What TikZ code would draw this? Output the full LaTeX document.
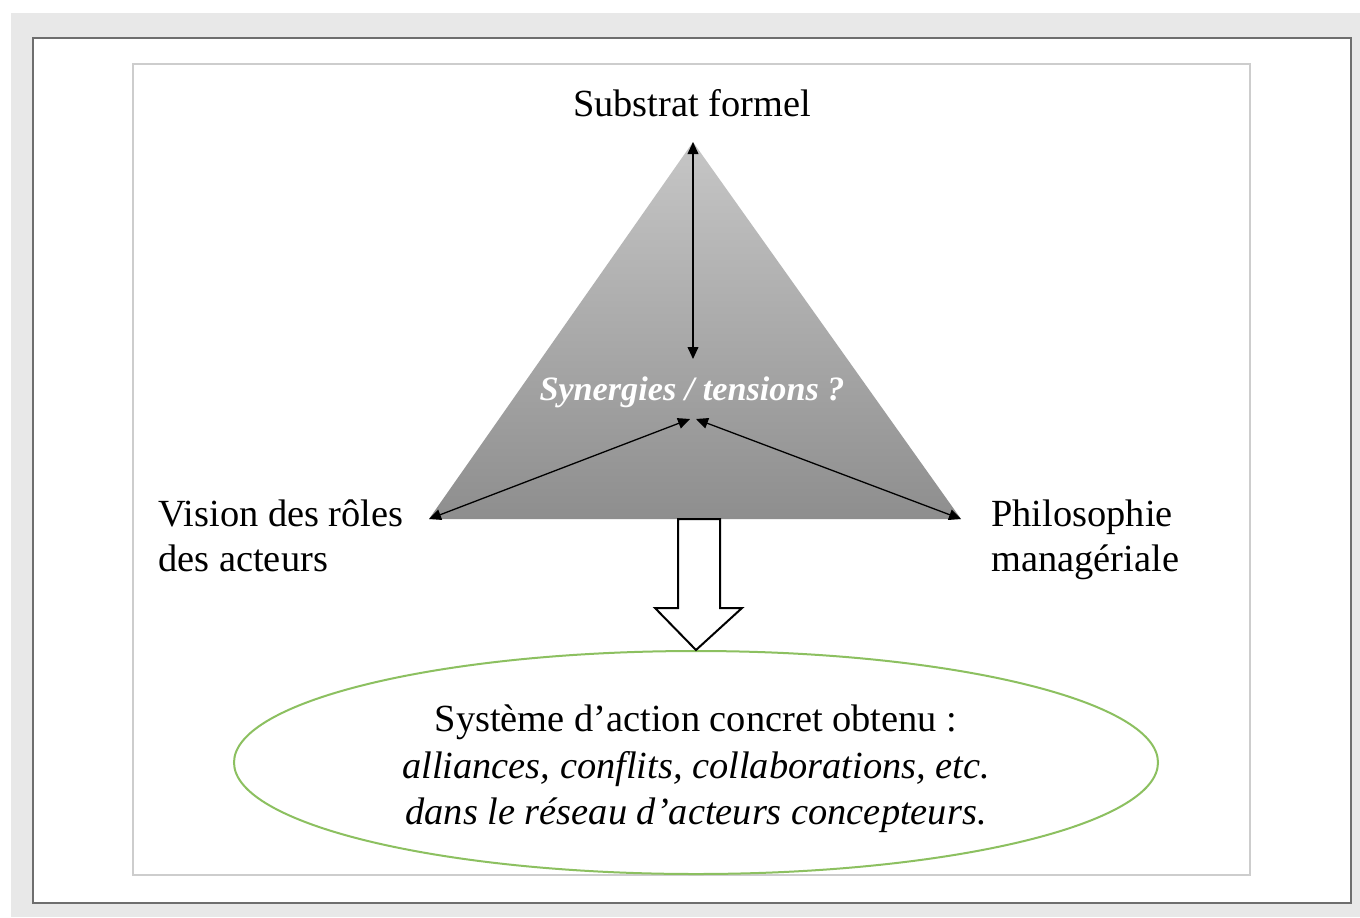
\documentclass[tikz,border=0pt]{standalone}
\usepackage{fontspec}
\setmainfont{Liberation Serif}
\usetikzlibrary{arrows.meta,shapes.geometric}
\definecolor{pagegray}{RGB}{232,232,232}
\definecolor{frameg}{RGB}{110,110,110}
\definecolor{innerg}{RGB}{205,205,205}
\definecolor{tritop}{RGB}{198,198,198}
\definecolor{tribot}{RGB}{142,142,142}
\definecolor{ellgreen}{RGB}{140,192,96}
\newcommand\lblfont{\fontsize{19.2}{22.6}\selectfont}
\newcommand\ellfont{\fontsize{19.2}{23.2}\selectfont}
\newcommand\synfont{\fontsize{17.1}{20}\selectfont\bfseries\itshape}
\tikzset{
  lbl/.style={inner sep=0pt, font=\lblfont},
  thinarr/.style={line width=0.65pt, {Triangle[length=6pt,width=5.4pt]}-{Triangle[length=6pt,width=5.4pt]}},
}
\begin{document}
\begin{tikzpicture}[x=0.5pt,y=-0.5pt]
\useasboundingbox (0,0) rectangle (1360,917);
\fill[white] (0,0) rectangle (1360,917);
\fill[pagegray] (11,13) rectangle (1360,917);
\draw[frameg, line width=1pt, fill=white] (33,38) rectangle (1351,903);
\draw[innerg, line width=0.7pt] (133,64) rectangle (1250,875);

% triangle
\coordinate (A) at (693,142);
\coordinate (L) at (429,519);
\coordinate (R) at (961,519);
\shade[top color=tritop, bottom color=tribot] (A) -- (L) -- (R) -- cycle;

% labels
\node[lbl, anchor=base] (top) at (692,116) {Substrat formel};
\node[lbl, anchor=north west, align=left] (left) at (158,499) {Vision des rôles\\des acteurs};
\node[lbl, anchor=north west, align=left] (right) at (991,499) {Philosophie\\managériale};
\node[inner sep=0pt, font=\synfont, text=white, anchor=base] (syn) at (692,400) {Synergies / tensions ?};

% thin arrows
\coordinate (Ain) at (693,142);
\coordinate (C) at (693,359);
\coordinate (Lin) at (429,519);
\coordinate (CL) at (690,419);
\coordinate (Rin) at (961,519);
\coordinate (CR) at (696,419);
\draw[thinarr] (Ain) -- (C);
\draw[thinarr] (Lin) -- (CL);
\draw[thinarr] (Rin) -- (CR);

% ellipse
\node[ellipse, draw=ellgreen, line width=1pt, minimum width=462pt, minimum height=111.5pt, inner sep=0pt] (E) at (696,762.5) {};
\node[inner sep=0pt, font=\ellfont, align=center] (etext) at (696,769) {Système d’action concret obtenu :\\\textit{alliances, conflits, collaborations, etc.}\\\textit{dans le réseau d’acteurs concepteurs.}};

% block arrow
\draw[line width=1pt, fill=white, line join=miter] (678,519) -- (678,608) -- (655,608) -- (E.north) -- (742,608) -- (720,608) -- (720,519) -- cycle;
\end{tikzpicture}
\end{document}
